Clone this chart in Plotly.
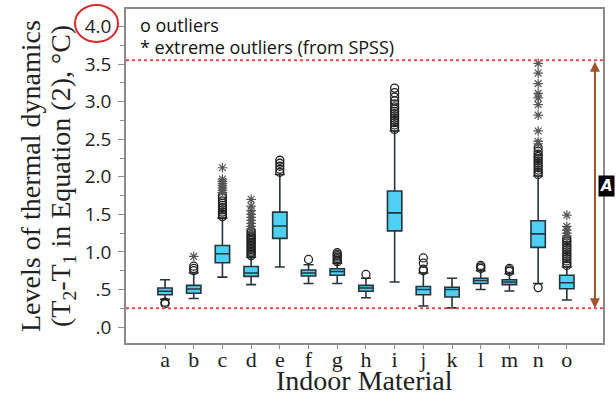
import plotly.graph_objects as go

cats = list("abcdefghijklmno")
q1 = [0.43, 0.45, 0.855, 0.675, 1.18, 0.68, 0.69, 0.476, 1.28, 0.43, 0.40, 0.58, 0.565, 1.06, 0.51]
med = [0.476, 0.507, 0.975, 0.72, 1.345, 0.72, 0.74, 0.52, 1.52, 0.50, 0.50, 0.62, 0.60, 1.24, 0.59]
q3 = [0.52, 0.555, 1.085, 0.807, 1.53, 0.76, 0.776, 0.555, 1.81, 0.54, 0.53, 0.65, 0.63, 1.415, 0.69]
lo = [0.37, 0.38, 0.665, 0.565, 0.80, 0.58, 0.58, 0.39, 0.60, 0.28, 0.255, 0.50, 0.48, 0.58, 0.36]
hi = [0.63, 0.72, 1.45, 0.93, 2.03, 0.83, 0.85, 0.65, 2.61, 0.72, 0.65, 0.75, 0.71, 2.01, 0.80]

outliers = {
    "a": [0.31, 0.33],
    "b": [0.75, 0.78, 0.81],
    "c": [1.47, 1.50, 1.53, 1.56, 1.59, 1.62, 1.65, 1.68, 1.72, 1.75],
    "d": [0.95, 0.97, 0.99, 1.01, 1.03, 1.05, 1.07, 1.09, 1.11, 1.13, 1.15, 1.17, 1.19, 1.21, 1.23, 1.26, 1.28],
    "e": [2.06, 2.10, 2.14, 2.18, 2.22],
    "f": [0.90],
    "g": [0.87, 0.89, 0.91, 0.93, 0.95, 0.97, 0.99],
    "h": [0.70],
    "i": [2.63, 2.66, 2.69, 2.72, 2.75, 2.78, 2.81, 2.84, 2.87, 2.90, 2.93, 2.97, 3.01, 3.06, 3.12, 3.18],
    "j": [0.75, 0.77, 0.85, 0.92],
    "l": [0.78, 0.80, 0.82],
    "m": [0.74, 0.76, 0.78],
    "n": [0.525, 2.03, 2.06, 2.09, 2.12, 2.15, 2.18, 2.21, 2.24, 2.27, 2.30, 2.34, 2.39],
    "o": [0.82, 0.85, 0.88, 0.91, 0.94, 0.97, 1.00, 1.03, 1.06, 1.09, 1.12, 1.15, 1.18],
}
extremes = {
    "b": [0.94],
    "c": [1.79, 1.82, 1.85, 1.88, 1.91, 1.94, 1.97, 2.12],
    "d": [1.30, 1.34, 1.38, 1.42, 1.46, 1.50, 1.55, 1.61, 1.70],
    "n": [2.44, 2.47, 2.61, 2.82, 2.96, 3.05, 3.11, 3.24, 3.38, 3.51],
    "o": [1.21, 1.25, 1.29, 1.34, 1.49],
}

ytick_vals = [0, 0.5, 1.0, 1.5, 2.0, 2.5, 3.0, 3.5, 4.0]
ytick_text = [".0", ".5", "1.0", "1.5", "2.0", "2.5", "3.0", "3.5", "4.0"]
ref_lines = [3.55, 0.25]

fig = go.Figure()
fig.add_trace(go.Box(
    x=cats, q1=q1, median=med, q3=q3, lowerfence=lo, upperfence=hi,
    boxpoints=False, width=0.5, whiskerwidth=0.7,
    fillcolor="#4FCFF3", line=dict(color="#26343a", width=1.6),
    showlegend=False,
))

ox, oy = [], []
for k, v in outliers.items():
    ox += [k] * len(v)
    oy += v
fig.add_trace(go.Scatter(
    x=ox, y=oy, mode="markers", showlegend=False,
    marker=dict(symbol="circle-open", size=8, color="#222", line=dict(width=1.3)),
))
ex, ey = [], []
for k, v in extremes.items():
    ex += [k] * len(v)
    ey += v
fig.add_trace(go.Scatter(
    x=ex, y=ey, mode="markers", showlegend=False, cliponaxis=False,
    marker=dict(symbol="asterisk-open", size=8, color="#555", line=dict(width=1.2, color="#555")),
))

for yv in ref_lines:
    fig.add_shape(type="line", xref="paper", x0=0, x1=1, yref="y", y0=yv, y1=yv,
                  line=dict(color="#E8474A", width=2, dash="dot"))

# red circle around 4.0
fig.add_shape(type="circle", xref="paper", xsizemode="pixel", xanchor=0, x0=-51, x1=-8,
              yref="paper", ysizemode="pixel", yanchor=0.9464, y0=-15, y1=22,
              line=dict(color="#D42A2A", width=2))

# brown double arrow
fig.add_annotation(x=14.98, y=ref_lines[1], ax=14.98, ay=ref_lines[0], xref="x", yref="y",
                   axref="x", ayref="y", text="", showarrow=True, arrowside="end+start",
                   arrowhead=2, startarrowhead=2, arrowsize=1, startarrowsize=1,
                   arrowwidth=2, arrowcolor="#A0522D")
fig.add_annotation(xref="paper", x=1, xshift=3, xanchor="center", yref="y", y=1.88,
                   yanchor="middle", text="<b><i>A</i></b>",
                   showarrow=False, bgcolor="black", borderpad=1,
                   font=dict(family="DejaVu Sans", size=15, color="white"))

# legend text
fig.add_annotation(xref="paper", x=0, xshift=12, xanchor="left", yref="paper", y=0.952,
                   yanchor="middle", text="o outliers", showarrow=False,
                   font=dict(family="Open Sans", size=18, color="#111"))
fig.add_annotation(xref="paper", x=0, xshift=12, xanchor="left", yref="paper", y=0.887,
                   yanchor="middle", text="* extreme outliers (from SPSS)", showarrow=False,
                   font=dict(family="Open Sans", size=18, color="#111"))

# y title (two lines)
fig.add_annotation(xref="paper", x=0, xshift=-96, xanchor="center", yref="paper", y=0.5,
                   yanchor="middle", textangle=-90,
                   text="Levels of thermal dynamics", showarrow=False,
                   font=dict(family="Liberation Serif", size=28, color="#222"))
fig.add_annotation(xref="paper", x=0, xshift=-64, xanchor="center", yref="paper", y=0.5,
                   yanchor="middle", textangle=-90,
                   text="(T<sub>2</sub>-T<sub>1</sub> in Equation (2), °C)", showarrow=False,
                   font=dict(family="Liberation Serif", size=28, color="#222"))
# x title
fig.add_annotation(xref="paper", x=0.5, xanchor="center", yref="paper", y=0, yanchor="top",
                   yshift=-20, text="Indoor Material", showarrow=False,
                   font=dict(family="Liberation Serif", size=28, color="#222"))

fig.update_layout(
    width=616, height=399,
    margin=dict(l=126, r=13, t=7, b=56),
    paper_bgcolor="white", plot_bgcolor="white",
    xaxis=dict(
        type="category", range=[-1.36, 15.26], tickmode="array", tickvals=cats, ticktext=cats,
        showline=True, mirror=True, linecolor="#8a8a8a", linewidth=1.5,
        ticks="outside", ticklen=4, tickcolor="#8a8a8a", showgrid=False, zeroline=False,
        tickfont=dict(family="Liberation Serif", size=22, color="#222"), tickangle=0,
        ticklabelstandoff=-8,
    ),
    yaxis=dict(
        range=[-0.212, 4.233], tickmode="array", tickvals=ytick_vals, ticktext=ytick_text,
        showline=True, mirror=True, linecolor="#8a8a8a", linewidth=1.5,
        ticks="outside", ticklen=6, tickcolor="#8a8a8a", showgrid=False, zeroline=False,
        tickfont=dict(family="Open Sans", size=19, color="#222"), ticklabelstandoff=3,
        minor=dict(tickmode="linear", tick0=0, dtick=0.25, ticks="outside", ticklen=4,
                   tickcolor="#8a8a8a", showgrid=False),
    ),
)

fig.write_html("out.html")
